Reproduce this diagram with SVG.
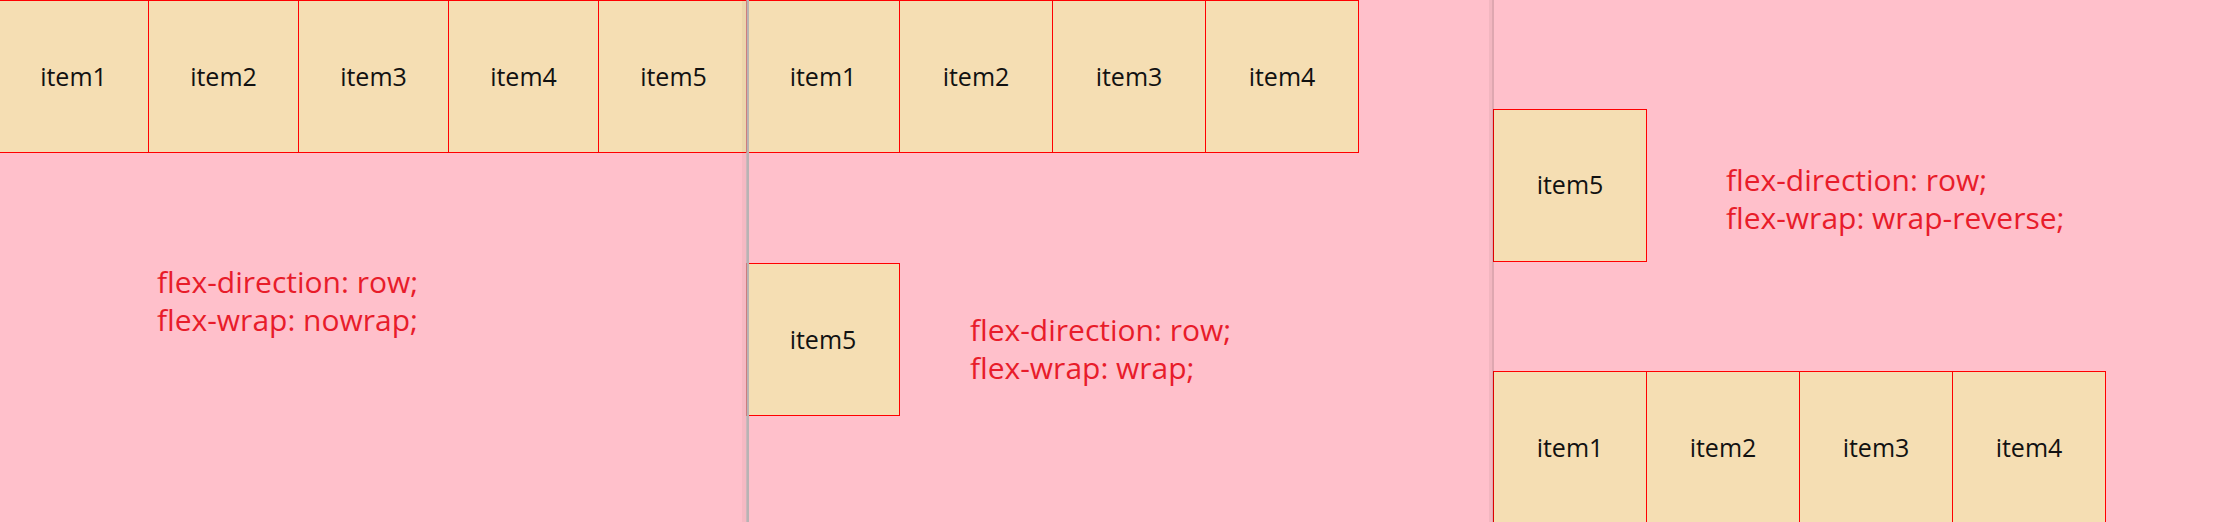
<svg xmlns="http://www.w3.org/2000/svg" width="2235" height="522" viewBox="0 0 2235 522">
  <style>
    .box { fill: #F5DEB3; stroke: #FF0000; stroke-width: 1; }
    .lbl { font-family: "Open Sans", "Noto Sans", sans-serif; font-size: 25px; fill: #111; text-anchor: middle; }
    .note { font-family: "Open Sans", "Noto Sans", sans-serif; font-size: 30px; fill: #E81C2A; }
  </style>
  <rect x="0" y="0" width="2235" height="522" fill="#FFC0CB"/>

  <!-- Panel 1: nowrap -->
  <g id="p1-item1"><rect class="box" x="-1.5" y="0.5" width="150" height="152"/><text class="lbl" x="73.5" y="86">item1</text></g>
  <g id="p1-item2"><rect class="box" x="148.5" y="0.5" width="150" height="152"/><text class="lbl" x="223.5" y="86">item2</text></g>
  <g id="p1-item3"><rect class="box" x="298.5" y="0.5" width="150" height="152"/><text class="lbl" x="373.5" y="86">item3</text></g>
  <g id="p1-item4"><rect class="box" x="448.5" y="0.5" width="150" height="152"/><text class="lbl" x="523.5" y="86">item4</text></g>
  <g id="p1-item5"><rect class="box" x="598.5" y="0.5" width="150" height="152"/><text class="lbl" x="673.5" y="86">item5</text></g>
  <g id="p1-note">
    <text class="note" x="157" y="293">flex-direction: row;</text>
    <text class="note" x="157" y="331">flex-wrap: nowrap;</text>
  </g>

  <!-- Panel 2: wrap -->
  <g id="p2-item1"><rect class="box" x="746.5" y="0.5" width="153" height="152"/><text class="lbl" x="823" y="86">item1</text></g>
  <g id="p2-item2"><rect class="box" x="899.5" y="0.5" width="153" height="152"/><text class="lbl" x="976" y="86">item2</text></g>
  <g id="p2-item3"><rect class="box" x="1052.5" y="0.5" width="153" height="152"/><text class="lbl" x="1129" y="86">item3</text></g>
  <g id="p2-item4"><rect class="box" x="1205.5" y="0.5" width="153" height="152"/><text class="lbl" x="1282" y="86">item4</text></g>
  <g id="p2-item5"><rect class="box" x="746.5" y="263.5" width="153" height="152"/><text class="lbl" x="823" y="349">item5</text></g>
  <g id="p2-note">
    <text class="note" x="970" y="341">flex-direction: row;</text>
    <text class="note" x="970" y="378.5">flex-wrap: wrap;</text>
  </g>

  <!-- Panel 3: wrap-reverse -->
  <g id="p3-item5"><rect class="box" x="1493.5" y="109.5" width="153" height="152"/><text class="lbl" x="1570" y="194">item5</text></g>
  <g id="p3-item1"><rect class="box" x="1493.5" y="371.5" width="153" height="152"/><text class="lbl" x="1570" y="457">item1</text></g>
  <g id="p3-item2"><rect class="box" x="1646.5" y="371.5" width="153" height="152"/><text class="lbl" x="1723" y="457">item2</text></g>
  <g id="p3-item3"><rect class="box" x="1799.5" y="371.5" width="153" height="152"/><text class="lbl" x="1876" y="457">item3</text></g>
  <g id="p3-item4"><rect class="box" x="1952.5" y="371.5" width="153" height="152"/><text class="lbl" x="2029" y="457">item4</text></g>
  <g id="p3-note">
    <text class="note" x="1726" y="191">flex-direction: row;</text>
    <text class="note" x="1726" y="228.5">flex-wrap: wrap-reverse;</text>
  </g>

  <!-- panel dividers -->
  <g id="dividers">
    <rect x="742" y="0" width="4.3" height="522" fill="#000" opacity="0.035"/>
    <rect x="746.3" y="0" width="2.7" height="522" fill="#B8B3B4"/>
    <rect x="1489" y="0" width="3" height="522" fill="#000" opacity="0.05"/>
    <rect x="1492" y="0" width="2" height="522" fill="#000" opacity="0.13"/>
  </g>
</svg>
